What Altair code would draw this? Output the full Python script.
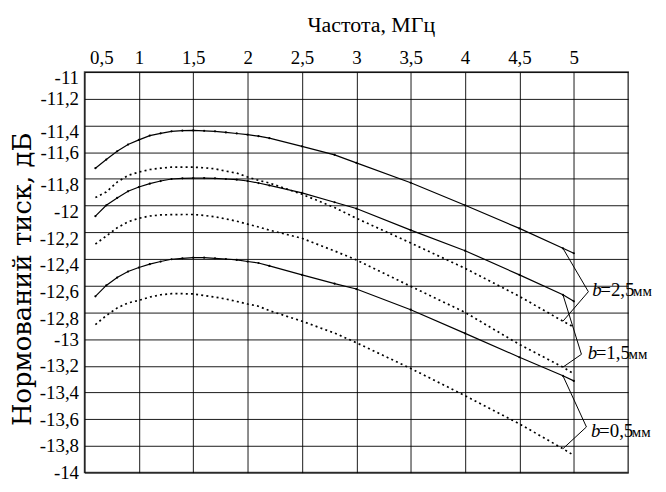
import altair as alt
import pandas as pd

# ---- data ----
freq = [0.6, 0.7, 0.8, 0.9, 1.0, 1.1, 1.2, 1.3, 1.4, 1.5, 1.6, 1.7, 1.8, 1.9,
        2.0, 2.1, 2.2, 2.5, 2.8, 3.0, 3.5, 4.0, 4.5, 4.9, 5.0]

solid_25 = [-11.72, -11.655, -11.593, -11.543, -11.508, -11.476, -11.459, -11.444, -11.439,
            -11.437, -11.44, -11.444, -11.452, -11.46, -11.469, -11.48, -11.495, -11.556,
            -11.62, -11.68, -11.829, -11.998, -12.171, -12.32, -12.357]
dotted_25 = [-11.94, -11.898, -11.824, -11.774, -11.749, -11.73, -11.72, -11.712, -11.712,
             -11.712, -11.717, -11.725, -11.742, -11.757, -11.786, -11.811, -11.831, -11.915,
             -12.015, -12.095, -12.28, -12.47, -12.68, -12.866, -12.91]
solid_15 = [-12.079, -11.998, -11.943, -11.893, -11.861, -11.836, -11.816, -11.801, -11.796,
            -11.794, -11.794, -11.796, -11.801, -11.806, -11.816, -11.831, -11.849, -11.905,
            -11.975, -12.022, -12.184, -12.338, -12.519, -12.668, -12.717]
dotted_15 = [-12.288, -12.228, -12.166, -12.121, -12.095, -12.078, -12.07, -12.068, -12.067,
             -12.067, -12.074, -12.084, -12.1, -12.117, -12.139, -12.16, -12.184, -12.245,
             -12.34, -12.407, -12.605, -12.8, -13.04, -13.21, -13.26]
solid_05 = [-12.68, -12.598, -12.539, -12.494, -12.464, -12.439, -12.419, -12.402, -12.395,
            -12.39, -12.39, -12.395, -12.4, -12.407, -12.419, -12.43, -12.452, -12.519,
            -12.585, -12.625, -12.78, -12.957, -13.136, -13.275, -13.313]
dotted_05 = [-12.891, -12.824, -12.767, -12.729, -12.71, -12.685, -12.668, -12.66, -12.66,
             -12.662, -12.674, -12.685, -12.7, -12.718, -12.737, -12.754, -12.787, -12.866,
             -12.955, -13.027, -13.22, -13.424, -13.635, -13.821, -13.871]

x_ticks = [0.5, 1, 1.5, 2, 2.5, 3, 3.5, 4, 4.5, 5]
y_ticks = [-11, -11.2, -11.4, -11.6, -11.8, -12, -12.2, -12.4, -12.6, -12.8,
           -13, -13.2, -13.4, -13.6, -13.8, -14]
y_shifted = [-11, -11.4, -11.8, -12, -12.2, -12.4, -12.6, -12.8]

label_values = ["=2,5", "=1,5", "=0,5"]
label_tip_f = [5.134, 5.07, 5.116]
label_tip_v = [-12.645, -13.114, -13.658]
label_text_f = [5.17, 5.128, 5.159]
label_text_v = [-12.68, -13.151, -13.734]
leader_f = 4.9

# ---- tables ----
series = [("2.5 solid", "solid", solid_25), ("2.5 dotted", "dotted", dotted_25),
          ("1.5 solid", "solid", solid_15), ("1.5 dotted", "dotted", dotted_15),
          ("0.5 solid", "solid", solid_05), ("0.5 dotted", "dotted", dotted_05)]
rows = []
for name, style, vals in series:
    for f, v in zip(freq, vals):
        rows.append({"f": f, "v": v, "s": name, "style": style})
df = pd.DataFrame(rows)

i49 = freq.index(leader_f)
pairs = [(solid_25, dotted_25), (solid_15, dotted_15), (solid_05, dotted_05)]
lead_rows = []
for k, (a, b) in enumerate(pairs):
    for curve in (a, b):
        lead_rows.append({"f": leader_f, "v": curve[i49], "f2": label_tip_f[k], "v2": label_tip_v[k]})
leaders = pd.DataFrame(lead_rows)

labels = pd.DataFrame({"f": label_text_f, "v": label_text_v, "t": label_values})

# ---- encodings ----
FONT = "Liberation Serif"
lbl_expr = "replace(toString(round(datum.value*10)/10), '.', ',')"
shift_test = "indexof([" + ",".join(str(v) for v in y_shifted) + "], datum.value) >= 0"

xaxis = alt.Axis(orient="top", values=x_ticks, labelExpr=lbl_expr, ticks=False, tickSize=0,
                 domain=False, grid=True, gridColor="black", gridOpacity=0.9, gridWidth=1,
                 labelFont=FONT, labelFontSize=19, labelColor="black", labelPadding=5,
                 labelOffset={"condition": {"test": "datum.value == 0.5", "value": 5}, "value": 0},
                 title="Частота, МГц", titleFont=FONT, titleFontSize=22, titleFontWeight="normal",
                 titleColor="black", titleX=288, titleY=-41, titleAlign="center",
                 titleBaseline="alphabetic", titleAngle=0)
yaxis = alt.Axis(values=y_ticks, labelExpr=lbl_expr, ticks=False, tickSize=0, domain=False,
                 grid=True, gridColor="black", gridOpacity=0.9, gridWidth=1,
                 labelFont=FONT, labelFontSize=19, labelColor="black", labelPadding=6,
                 labelOffset={"condition": {"test": shift_test, "value": 6}, "value": 0},
                 title="Нормований тиск, дБ", titleFont="DejaVu Serif", titleFontSize=26,
                 titleFontWeight="normal", titleColor="black", titleX=-62, titleY=208,
                 titleAngle=270, titleAlign="center", titleBaseline="middle")

xs = alt.Scale(domain=[0.5, 5.5], nice=False, zero=False)
ys = alt.Scale(domain=[-14, -11], nice=False, zero=False)
X = alt.X("f:Q", scale=xs, axis=xaxis)
Y = alt.Y("v:Q", scale=ys, axis=yaxis)

base = alt.Chart(df)
solid = base.transform_filter(alt.datum.style == "solid").mark_line(
    color="black", strokeWidth=1.2,
    point=alt.OverlayMarkDef(color="black", size=5, filled=True)
).encode(x=X, y=Y, detail="s:N")
dotted = base.transform_filter(alt.datum.style == "dotted").mark_line(
    color="black", strokeWidth=1.7, strokeDash=[2, 3.2]
).encode(x=X, y=Y, detail="s:N")

lead = alt.Chart(leaders).mark_rule(color="black", strokeWidth=1).encode(
    x=X, y=Y, x2="f2:Q", y2="v2:Q")

tb = alt.Chart(labels).mark_text(text="b", font=FONT, fontSize=19, fontStyle="italic",
                                  align="left", baseline="alphabetic", color="black").encode(x=X, y=Y)
tv = alt.Chart(labels).mark_text(font=FONT, fontSize=19, align="left", baseline="alphabetic",
                                  color="black", dx=8).encode(x=X, y=Y, text="t:N")
tm = alt.Chart(labels).mark_text(text="мм", font=FONT, fontSize=15, align="left",
                                  baseline="alphabetic", color="black", dx=41).encode(x=X, y=Y)

chart = alt.layer(solid, dotted, lead, tb, tv, tm).properties(
    width=547, height=403,
    padding={"left": 77, "top": 63, "right": 30, "bottom": 10},
    autosize=alt.AutoSizeParams(type="none"),
    background="white",
).configure_view(stroke="#444", strokeWidth=1.5)

chart.save("out.html", embed_options={"renderer": "svg", "actions": False})
